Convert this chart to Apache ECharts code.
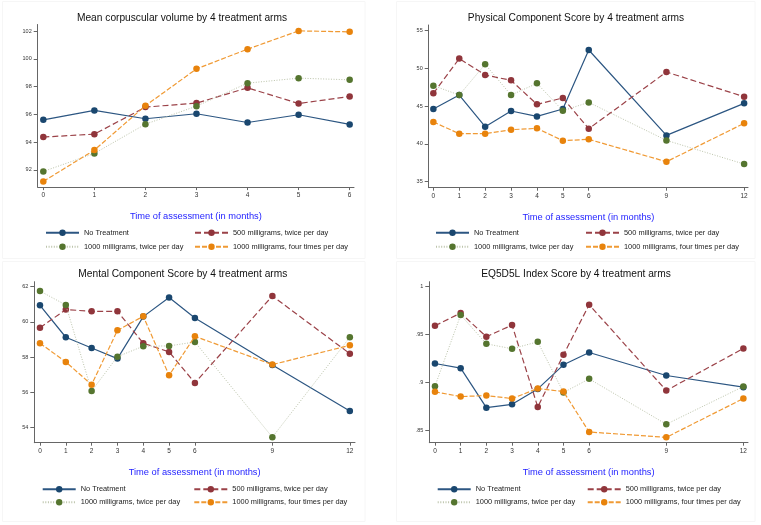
<!DOCTYPE html>
<html><head><meta charset="utf-8">
<script src="https://cdn.jsdelivr.net/npm/echarts@6/dist/echarts.min.js"></script>
<style>html,body{margin:0;padding:0;background:#fff}#c{width:761px;height:525px}</style>
</head><body><div id="c"></div>
<script>
const seriesNames = ['No Treatment', '500 milligrams, twice per day', '1000 milligrams, twice per day', '1000 milligrams, four times per day'];
const panelTitles = ['Mean corpuscular volume by 4 treatment arms', 'Physical Component Score by 4 treatment arms', 'Mental Component Score by 4 treatment arms', 'EQ5D5L Index Score by 4 treatment arms'];
const xTitle = 'Time of assessment (in months)';
const months6 = [0, 1, 2, 3, 4, 5, 6];
const months12 = [0, 1, 2, 3, 4, 5, 6, 9, 12];

const mcvNone   = [95.60, 96.28, 95.68, 96.04, 95.41, 95.97, 95.27];
const mcv500    = [94.36, 94.57, 96.52, 96.81, 97.91, 96.78, 97.29];
const mcv1000x2 = [91.88, 93.18, 95.29, 96.59, 98.25, 98.61, 98.49];
const mcv1000x4 = [91.16, 93.42, 96.62, 99.28, 100.70, 102.02, 101.95];

const pcsNone   = [44.60, 46.45, 42.27, 44.34, 43.63, 44.60, 52.40, 41.12, 45.35];
const pcs500    = [46.67, 51.26, 49.10, 48.39, 45.22, 46.06, 42.00, 49.49, 46.23];
const pcs1000x2 = [47.69, 46.45, 50.51, 46.45, 47.99, 44.38, 45.48, 40.46, 37.33];
const pcs1000x4 = [42.89, 41.34, 41.34, 41.87, 42.05, 40.42, 40.60, 37.64, 42.71];

const mcsNone   = [60.94, 59.13, 58.52, 57.92, 60.30, 61.38, 60.22, 57.56, 54.95];
const mcs500    = [59.67, 60.70, 60.60, 60.60, 58.79, 58.30, 56.54, 61.47, 58.20];
const mcs1000x2 = [61.75, 60.96, 56.08, 58.03, 58.62, 58.64, 58.86, 53.46, 59.13];
const mcs1000x4 = [58.79, 57.73, 56.44, 59.52, 60.32, 56.97, 59.18, 57.58, 58.67];

const eqNone   = [0.9196, 0.9147, 0.8734, 0.8769, 0.8930, 0.9182, 0.9311, 0.9070, 0.8948];
const eq500    = [0.9591, 0.9724, 0.9476, 0.9598, 0.8741, 0.9287, 0.9811, 0.8913, 0.9353];
const eq1000x2 = [0.8958, 0.9703, 0.9402, 0.9350, 0.9423, 0.8892, 0.9035, 0.8560, 0.8955];
const eq1000x4 = [0.8899, 0.8850, 0.8860, 0.8829, 0.8934, 0.8902, 0.8479, 0.8423, 0.8829];

const mcvTicks = [92, 94, 96, 98, 100, 102];
const pcsTicks = [35, 40, 45, 50, 55];
const mcsTicks = [54, 56, 58, 60, 62];
const eqTicks = [0.85, 0.9, 0.95, 1];
const eqTickLabels = ['.85', '.9', '.95', '1'];

const FONT = '"Liberation Sans", Arial, Helvetica, sans-serif';
const styles = [
  { color: '#1a476f', line: '#2c5682', type: 'solid', width: 1.2 },
  { color: '#90353b', line: '#9b4248', type: [6, 3], width: 1.2 },
  { color: '#55752f', line: '#bcc4ab', type: [1, 1.6], width: 1 },
  { color: '#e8830c', line: '#f09a34', type: [5, 2], width: 1.2 }
];

const panels = [
  { months: months6, data: [mcvNone, mcv500, mcv1000x2, mcv1000x4], ticks: mcvTicks, labels: null,
    grid: { left: 37.7, top: 24.5, width: 316.3, height: 162.6 }, xr: [-0.11, 6.085], yr: [90.75, 102.48],
    titleX: 182, titleY: 17.7, legX: [45, 194], legY: [232.7, 246.7], box: [2.5, 1.5, 362.5, 257] },
  { months: months12, data: [pcsNone, pcs500, pcs1000x2, pcs1000x4], ticks: pcsTicks, labels: null,
    grid: { left: 428.7, top: 25, width: 319.3, height: 162.7 }, xr: [-0.18, 12.15], yr: [34.21, 55.7],
    titleX: 576, titleY: 17.7, legX: [435, 585], legY: [232.7, 246.7], box: [396.5, 1.5, 358.5, 257] },
  { months: months12, data: [mcsNone, mcs500, mcs1000x2, mcs1000x4], ticks: mcsTicks, labels: null,
    grid: { left: 34.3, top: 281.7, width: 320.7, height: 161 }, xr: [-0.22, 12.2], yr: [53.15, 62.28],
    titleX: 182.8, titleY: 274.3, legX: [41.7, 193.3], legY: [489.3, 502.3], box: [2.5, 261.5, 362.5, 260] },
  { months: months12, data: [eqNone, eq500, eq1000x2, eq1000x4], ticks: eqTicks, labels: eqTickLabels,
    grid: { left: 429.3, top: 281.7, width: 318.7, height: 161 }, xr: [-0.22, 12.18], yr: [0.8367, 1.0052],
    titleX: 576, titleY: 274.3, legX: [436.7, 586.7], legY: [489.3, 502.3], box: [396.5, 261.5, 358.5, 260] }
];

const grid = [], xAxis = [], yAxis = [], series = [], legend = [], graphic = [];
panels.forEach((p, gi) => {
  graphic.push({
    type: 'rect', silent: true, z: -10,
    shape: { x: p.box[0], y: p.box[1], width: p.box[2], height: p.box[3] },
    style: { fill: null, stroke: '#f6f6f6', lineWidth: 1 }
  });
  grid.push(Object.assign({ containLabel: false }, p.grid));
  xAxis.push({
    type: 'value', gridIndex: gi, min: p.xr[0], max: p.xr[1],
    name: xTitle, nameLocation: 'middle', nameGap: 25,
    nameTextStyle: { color: '#2323ff', fontSize: 9.3, fontFamily: FONT },
    axisLine: { onZero: false, lineStyle: { color: '#666', width: 1 } },
    axisTick: { customValues: p.months, length: 3, lineStyle: { color: '#666' } },
    axisLabel: { customValues: p.months, fontSize: 6.5, color: '#333', margin: 5, fontFamily: FONT },
    splitLine: { show: false }
  });
  const lbl = p.labels;
  yAxis.push({
    type: 'value', gridIndex: gi, min: p.yr[0], max: p.yr[1],
    axisLine: { show: true, onZero: false, lineStyle: { color: '#666', width: 1 } },
    axisTick: { show: true, customValues: p.ticks, length: 4, lineStyle: { color: '#666' } },
    axisLabel: { customValues: p.ticks, fontSize: 5.5, color: '#333', margin: 6, fontFamily: FONT,
      formatter: v => { if (lbl) { const i = p.ticks.findIndex(t => Math.abs(t - v) < 1e-9); return i >= 0 ? lbl[i] : ''; } return String(v); } },
    splitLine: { show: false }
  });
  p.data.forEach((vals, si) => {
    const st = styles[si];
    series.push({
      type: 'line', name: seriesNames[si], xAxisIndex: gi, yAxisIndex: gi,
      data: p.months.map((m, k) => [m, vals[k]]),
      symbol: 'circle', symbolSize: 6.5,
      itemStyle: { color: st.color },
      lineStyle: { color: st.line, type: st.type, width: st.width },
      emphasis: { disabled: true }, animation: false, z: 2 + si
    });
    const col = si % 2, row = Math.floor(si / 2);
    legend.push({
      data: [seriesNames[si]], left: p.legX[col], top: p.legY[row] - 5, padding: 0,
      itemWidth: 33, itemHeight: 8, selectedMode: false,
      textStyle: { fontSize: 7.4, color: '#222', fontFamily: FONT, lineHeight: 10 }
    });
  });
  graphic.push({
    type: 'text', silent: true,
    style: { x: p.titleX, y: p.titleY, text: panelTitles[gi], align: 'center', verticalAlign: 'middle',
      fontSize: 10.2, fill: '#111', font: '10.2px ' + FONT }
  });
});

const chart = echarts.init(document.getElementById('c'), null, { renderer: 'canvas' });
chart.setOption({ backgroundColor: '#fff', animation: false, grid, xAxis, yAxis, series, legend, graphic });
</script></body></html>
